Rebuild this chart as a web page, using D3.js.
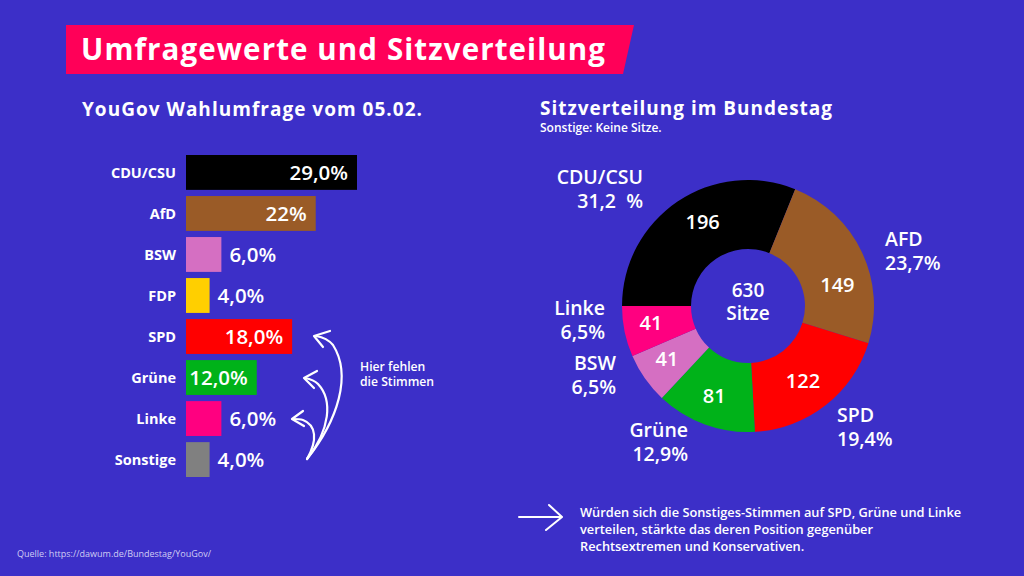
<!DOCTYPE html>
<html><head><meta charset="utf-8">
<script src="https://cdn.jsdelivr.net/npm/d3@7"></script>
<style>
html,body{margin:0;padding:0;background:#3c2fc8;}
svg{display:block;font-family:"Open Sans", Lato, sans-serif;}
</style></head>
<body>
<svg id="c" width="1024" height="576"></svg>
<script>
// ---- data ----
const pollParties = ["CDU/CSU","AfD","BSW","FDP","SPD","Grüne","Linke","Sonstige"];
const pollValues  = [29.0, 22, 6.0, 4.0, 18.0, 12.0, 6.0, 4.0];
const pollLabels  = ["29,0%","22%","6,0%","4,0%","18,0%","12,0%","6,0%","4,0%"];
const pollColors  = ["#000000","#9a5b27","#d56fc2","#ffcf00","#ff0000","#00b219","#ff0080","#808080"];

const seatParties = ["CDU/CSU","AFD","SPD","Grüne","BSW","Linke"];
const seatValues  = [196,149,122,81,41,41];
const seatPercent = ["31,2  %","23,7%","19,4%","12,9%","6,5%","6,5%"];
const seatColors  = ["#000000","#9a5b27","#ff0000","#00b219","#d56fc2","#ff0080"];
const seatTotal = 630;

// ---- setup ----
const svg = d3.select("#c");
const W = 1024, H = 576;
svg.append("rect").attr("width",W).attr("height",H).attr("fill","#3c2fc8");

// title banner
svg.append("path").attr("d","M66,25 L634,25 L623,74 L66,74 Z").attr("fill","#ff0058");
svg.append("text").attr("x",81).attr("y",60).attr("fill","#fff")
  .attr("font-size",29.5).attr("font-weight",700)
  .attr("textLength",524).attr("lengthAdjust","spacing")
  .text("Umfragewerte und Sitzverteilung");

// ---- bar chart ----
svg.append("text").attr("x",82).attr("y",116).attr("fill","#fff")
  .attr("font-size",19).attr("font-weight",700)
  .attr("textLength",340).attr("lengthAdjust","spacing")
  .text("YouGov Wahlumfrage vom 05.02.");

const x = d3.scaleLinear().domain([0,29]).range([186,357]);
const y = d3.scaleBand().domain(pollParties).range([155,477]).paddingInner(0.15).paddingOuter(0);

const bars = svg.append("g");
bars.selectAll("rect").data(pollParties).join("rect")
  .attr("x",x(0)).attr("y",d=>y(d)).attr("height",y.bandwidth())
  .attr("width",(d,i)=>x(pollValues[i])-x(0)).attr("fill",(d,i)=>pollColors[i]);

bars.selectAll("text.cat").data(pollParties).join("text").attr("class","cat")
  .attr("x",176).attr("y",d=>y(d)+y.bandwidth()/2).attr("dy","0.36em")
  .attr("text-anchor","end").attr("fill","#fff").attr("font-size",14.5).attr("font-weight",700)
  .text(d=>d);

bars.selectAll("text.val").data(pollParties).join("text").attr("class","val")
  .each(function(d,i){
    const v = pollValues[i];
    const inside = v >= 10;
    d3.select(this)
      .attr("x", inside ? x(v)-9 : x(v)+8)
      .attr("text-anchor", inside ? "end" : "start");
  })
  .attr("y",d=>y(d)+y.bandwidth()/2).attr("dy","0.36em")
  .attr("fill","#fff").attr("font-size",20.5).attr("font-weight",600)
  .text((d,i)=>pollLabels[i]);

// curved arrows
const arrows = svg.append("g").attr("fill","none").attr("stroke","#fff").attr("stroke-width",2.2)
  .attr("stroke-linecap","round").attr("stroke-linejoin","round");
arrows.append("path").attr("d","M307,459 C338,420 352,375 333,345 C328,339 322,337 316,336");
arrows.append("path").attr("d","M330,331 L314,336 L323,347");
arrows.append("path").attr("d","M307,459 C330,430 333,400 318,384 C314,380 310,379 305,378");
arrows.append("path").attr("d","M317,371 L304,378 L314,388");
arrows.append("path").attr("d","M307,459 C318,440 316,425 303,420 C300,419 297,419 293,419");
arrows.append("path").attr("d","M303,411 L292,419 L304,426");

svg.append("text").attr("x",360).attr("y",371).attr("fill","#fff")
  .attr("font-size",12.2).attr("font-weight",600).text("Hier fehlen");
svg.append("text").attr("x",360).attr("y",386).attr("fill","#fff")
  .attr("font-size",12.2).attr("font-weight",600).text("die Stimmen");

// ---- donut ----
svg.append("text").attr("x",540).attr("y",115).attr("fill","#fff")
  .attr("font-size",19).attr("font-weight",700)
  .attr("textLength",292).attr("lengthAdjust","spacing")
  .text("Sitzverteilung im Bundestag");
svg.append("text").attr("x",540).attr("y",132).attr("fill","#fff")
  .attr("font-size",12).attr("font-weight",600).text("Sonstige: Keine Sitze.");

const cx = 748, cy = 306, rOut = 126, rIn = 57;
const pie = d3.pie().sort(null).startAngle(-Math.PI/2).endAngle(1.5*Math.PI);
const arcs = pie(seatValues);
const arc = d3.arc().innerRadius(rIn).outerRadius(rOut);
const labelArc = d3.arc().innerRadius(rIn+42).outerRadius(rIn+42);
const labelNudge = {"CDU/CSU":[10,-2],"AFD":[0,21],"SPD":[-6,-3],"Grüne":[0,-3],"BSW":[0,-4],"Linke":[0,-3]};
const g = svg.append("g").attr("transform",`translate(${cx},${cy})`);
g.selectAll("path").data(arcs).join("path").attr("d",arc).attr("fill",(d,i)=>seatColors[i]);
g.selectAll("text.seat").data(arcs).join("text").attr("class","seat")
  .attr("transform",(d,i)=>{
    const c = labelArc.centroid(d), n = labelNudge[seatParties[i]];
    return `translate(${c[0]+n[0]},${c[1]+n[1]})`;
  }).attr("dy","0.36em")
  .attr("text-anchor","middle").attr("fill","#fff").attr("font-size",20).attr("font-weight",600)
  .text(d=>d.data);

g.append("text").attr("y",-9).attr("text-anchor","middle").attr("fill","#fff")
  .attr("font-size",19).attr("font-weight",600).text(seatTotal);
g.append("text").attr("y",14).attr("text-anchor","middle").attr("fill","#fff")
  .attr("font-size",19).attr("font-weight",600).text("Sitze");

// outer labels (layout offsets relative to centre)
const outerLayout = {
  "CDU/CSU":{x:-105,y:-122,a:"end"},
  "AFD":{x:137,y:-60,a:"start"},
  "SPD":{x:89,y:116,a:"start"},
  "Grüne":{x:-60,y:131,a:"end"},
  "BSW":{x:-132,y:64,a:"end"},
  "Linke":{x:-143,y:9,a:"end"}
};
seatParties.forEach((p,i)=>{
  const L = outerLayout[p];
  g.append("text").attr("text-anchor",L.a).attr("fill","#fff")
    .attr("font-size",19.5).attr("font-weight",600)
    .attr("x",L.x).attr("y",L.y).text(p);
  g.append("text").attr("text-anchor",L.a).attr("fill","#fff")
    .attr("font-size",19.5).attr("font-weight",600).attr("xml:space","preserve")
    .style("white-space","pre")
    .attr("x",L.x).attr("y",L.y+24).text(seatPercent[i]);
});

// ---- note ----
const na = svg.append("g").attr("fill","none").attr("stroke","#fff").attr("stroke-width",2)
  .attr("stroke-linecap","round").attr("stroke-linejoin","round");
na.append("path").attr("d","M519,517 L561,517");
na.append("path").attr("d","M549,505 L562,517 L546,530");
const note = ["Würden sich die Sonstiges-Stimmen auf SPD, Grüne und Linke",
              "verteilen, stärkte das deren Position gegenüber",
              "Rechtsextremen und Konservativen."];
svg.selectAll("text.note").data(note).join("text").attr("class","note")
  .attr("x",580).attr("y",(d,i)=>517+i*17).attr("fill","#fff")
  .attr("font-size",12.8).attr("font-weight",600).text(d=>d);

svg.append("text").attr("x",17).attr("y",557).attr("fill","#d0ccf4")
  .attr("font-size",9).text("Quelle: https://dawum.de/Bundestag/YouGov/");
</script>
</body></html>
